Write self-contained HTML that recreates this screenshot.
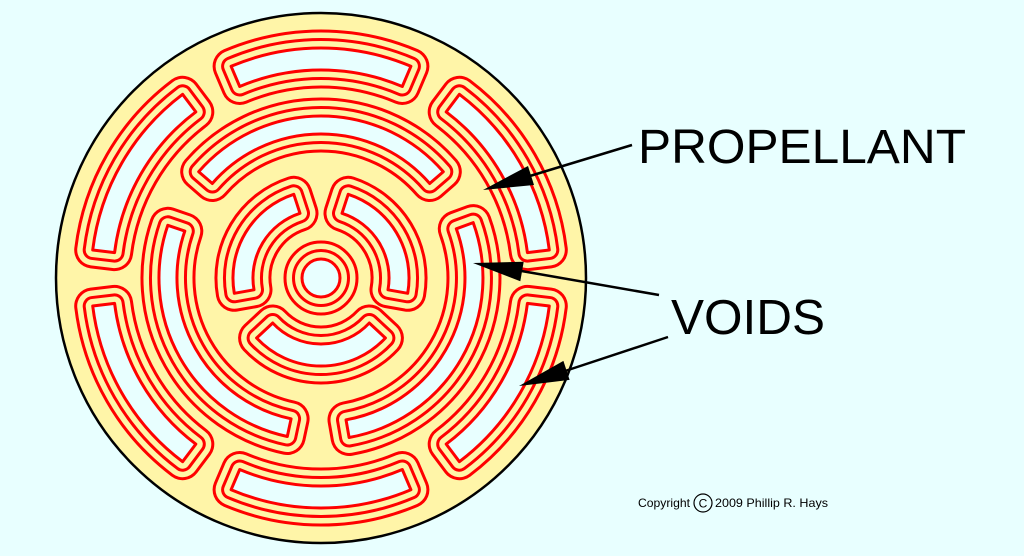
<!DOCTYPE html>
<html><head><meta charset="utf-8"><style>
html,body{margin:0;padding:0;background:#E8FFFF;}
svg{display:block;}
</style></head><body>
<svg width="1024" height="556" viewBox="0 0 1024 556" xmlns="http://www.w3.org/2000/svg">
<defs>
<g id="v">
<path d="M549.3,306.0 A230,230 0 0 1 459.4,461.7 L446.2,444.1 A208,208 0 0 0 527.4,303.4 Z"/>
<path d="M410.9,489.7 A230,230 0 0 1 231.1,489.7 L239.7,469.5 A208,208 0 0 0 402.3,469.5 Z"/>
<path d="M182.6,461.7 A230,230 0 0 1 92.7,306.0 L114.6,303.4 A208,208 0 0 0 195.8,444.1 Z"/>
<path d="M92.7,250.0 A230,230 0 0 1 182.6,94.3 L195.8,111.9 A208,208 0 0 0 114.6,252.6 Z"/>
<path d="M231.1,66.3 A230,230 0 0 1 410.9,66.3 L402.3,86.5 A208,208 0 0 0 239.7,86.5 Z"/>
<path d="M459.4,94.3 A230,230 0 0 1 549.3,250.0 L527.4,252.6 A208,208 0 0 0 446.2,111.9 Z"/>
<path d="M198.7,171.7 A162,162 0 0 1 443.3,171.7 L429.7,183.5 A144,144 0 0 0 212.3,183.5 Z"/>
<path d="M287.3,436.5 A162,162 0 0 1 167.8,225.3 L184.8,231.1 A144,144 0 0 0 291.1,418.8 Z"/>
<path d="M473.2,222.6 A162,162 0 0 1 349.1,437.5 L346.0,419.8 A144,144 0 0 0 456.3,228.8 Z"/>
<path d="M234.3,293.3 A88,88 0 0 1 293.8,194.3 L300.0,213.3 A68,68 0 0 0 254.0,289.8 Z"/>
<path d="M348.2,194.3 A88,88 0 0 1 407.7,293.3 L388.0,289.8 A68,68 0 0 0 342.0,213.3 Z"/>
<path d="M385.4,338.0 A88,88 0 0 1 256.6,338.0 L272.7,323.0 A66,66 0 0 0 369.3,323.0 Z"/>
<circle cx="321" cy="278" r="19"/>
</g>
</defs>
<circle cx="321" cy="278" r="265" fill="#FFF5A8" stroke="#000" stroke-width="2.5"/>
<g stroke-linejoin="round" fill="none">
<use href="#v" stroke="#FF0000" stroke-width="37"/>
<use href="#v" stroke="#FFF5A8" stroke-width="31"/>
<use href="#v" stroke="#FF0000" stroke-width="20"/>
<use href="#v" stroke="#FFF5A8" stroke-width="14"/>
<use href="#v" stroke="#FF0000" stroke-width="3" fill="#E8FFFF"/>
</g>
<g stroke="#000" stroke-width="2.5">
<line x1="632" y1="145" x2="520" y2="179"/>
<line x1="659" y1="295" x2="510" y2="269"/>
<line x1="668" y1="337" x2="556" y2="374"/>
</g>
<g fill="#000">
<polygon points="483,190 534,185 528,166"/>
<polygon points="473,263 520.3,281.3 523.7,261.7"/>
<polygon points="519,386 569.6,379.9 563.4,360.9"/>
</g>
<g font-family="Liberation Sans, Arial, sans-serif" fill="#000">
<text x="638" y="163" font-size="48.5" textLength="328" lengthAdjust="spacingAndGlyphs">PROPELLANT</text>
<text x="671" y="334" font-size="49" textLength="154" lengthAdjust="spacingAndGlyphs">VOIDS</text>
<text x="638" y="507" font-size="12" textLength="52" lengthAdjust="spacingAndGlyphs">Copyright</text>
<circle cx="703" cy="503" r="9" fill="none" stroke="#000" stroke-width="1.2"/>
<text x="703" y="507.5" font-size="12" text-anchor="middle">C</text>
<text x="715" y="507" font-size="12" textLength="113" lengthAdjust="spacingAndGlyphs">2009 Phillip R. Hays</text>
</g>
</svg>
</body></html>
